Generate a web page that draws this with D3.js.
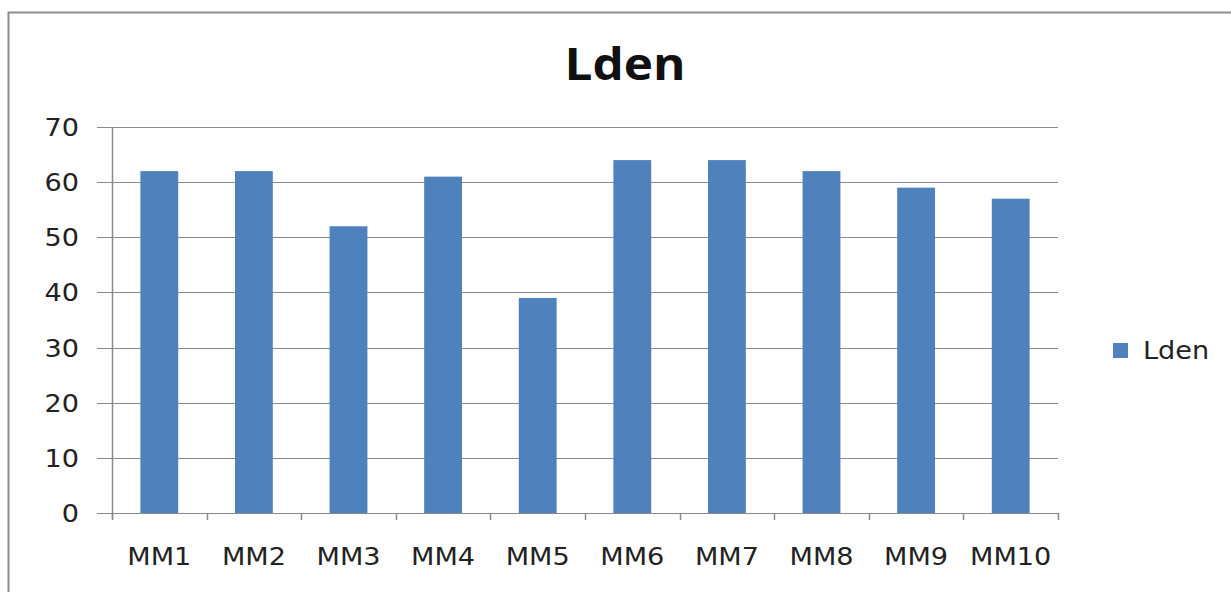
<!DOCTYPE html>
<html>
<head>
<meta charset="utf-8">
<script src="https://cdn.jsdelivr.net/npm/d3@7"></script>
<style>
  html, body { margin: 0; padding: 0; background: #fff; }
  svg { display: block; }
</style>
</head>
<body>
<svg id="chart" width="1231" height="592"></svg>
<script>
const categories = ["MM1", "MM2", "MM3", "MM4", "MM5", "MM6", "MM7", "MM8", "MM9", "MM10"];
const ldenValues = [62, 62, 52, 61, 39, 64, 64, 62, 59, 57];
const yTicks = [0, 10, 20, 30, 40, 50, 60, 70];
const seriesName = "Lden";

const svg = d3.select("#chart");
const W = 1231, H = 592;
const plot = { left: 112, right: 1058, top: 127, bottom: 513 };
const barColor = "#4F81BD";
const labelFont = "'DejaVu Sans', Verdana, sans-serif";
const labelSize = 24;
const stretch = 1.13;   // labels are drawn slightly wide

// outer chart frame
svg.append("rect")
  .attr("x", 8.5).attr("y", 12.5)
  .attr("width", W + 20).attr("height", H + 20)
  .attr("fill", "none").attr("stroke", "#8c8c8c").attr("stroke-width", 2);

const x = d3.scaleBand().domain(categories)
  .range([plot.left, plot.right]).paddingInner(0.6).paddingOuter(0.3);
const y = d3.scaleLinear().domain([0, 70]).range([plot.bottom, plot.top]);

// horizontal gridlines
svg.append("g").selectAll("line").data(yTicks).join("line")
  .attr("x1", plot.left - 15).attr("x2", plot.right)
  .attr("y1", d => Math.round(y(d)) + 0.5).attr("y2", d => Math.round(y(d)) + 0.5)
  .attr("stroke", "#8a8a8a").attr("stroke-width", 1.2);

// y axis line
svg.append("line")
  .attr("x1", plot.left + 0.5).attr("x2", plot.left + 0.5)
  .attr("y1", plot.top).attr("y2", plot.bottom + 6)
  .attr("stroke", "#8a8a8a").attr("stroke-width", 1.5);

// y tick labels
svg.append("g").selectAll("text").data(yTicks).join("text")
  .attr("transform", d => `translate(79,${y(d) + 9}) scale(${stretch},1)`)
  .attr("text-anchor", "end")
  .attr("font-family", labelFont).attr("font-size", labelSize).attr("fill", "#222")
  .text(d => d);

// x axis tick marks at band boundaries
const boundaries = d3.range(categories.length + 1).map(i => plot.left + i * (plot.right - plot.left) / categories.length);
svg.append("g").selectAll("line").data(boundaries).join("line")
  .attr("x1", d => Math.round(d) + 0.5).attr("x2", d => Math.round(d) + 0.5)
  .attr("y1", plot.bottom).attr("y2", plot.bottom + 7)
  .attr("stroke", "#8a8a8a").attr("stroke-width", 1.5);

// bars
svg.append("g").selectAll("rect").data(categories).join("rect")
  .attr("x", d => x(d))
  .attr("y", (d, i) => y(ldenValues[i]))
  .attr("width", x.bandwidth())
  .attr("height", (d, i) => y(0) - y(ldenValues[i]))
  .attr("fill", barColor);

// x tick labels
svg.append("g").selectAll("text").data(categories).join("text")
  .attr("transform", d => `translate(${x(d) + x.bandwidth() / 2},565) scale(${stretch},1)`)
  .attr("text-anchor", "middle")
  .attr("font-family", labelFont).attr("font-size", labelSize).attr("fill", "#222")
  .text(d => d);

// title
svg.append("text")
  .attr("transform", "translate(625,80) scale(1.1,1)")
  .attr("text-anchor", "middle")
  .attr("font-family", "'Open Sans', 'Liberation Sans', sans-serif")
  .attr("font-weight", "bold").attr("font-size", 45).attr("fill", "#111")
  .text(seriesName);

// legend
const lg = svg.append("g").attr("transform", "translate(1113,343)");
lg.append("rect").attr("width", 15).attr("height", 15).attr("fill", barColor);
lg.append("text").attr("transform", `translate(30,16) scale(${stretch},1)`)
  .attr("font-family", labelFont).attr("font-size", labelSize).attr("fill", "#222")
  .text(seriesName);
</script>
</body>
</html>
